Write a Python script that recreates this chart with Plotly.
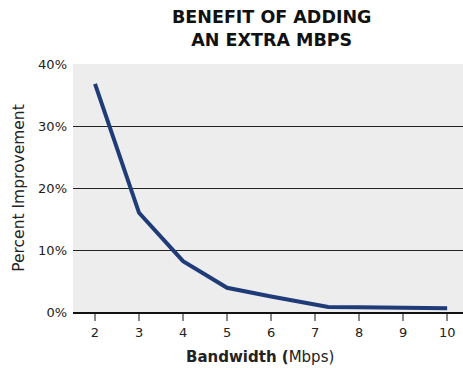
import plotly.graph_objects as go

# Bandwidth (Mbps) and percent improvement from one extra Mbps
bandwidth = [2, 3, 4, 5, 6, 7.3, 8, 9, 10]
improvement = [36.8, 16.0, 8.2, 3.9, 2.5, 0.8, 0.75, 0.7, 0.6]

x_ticks = [2, 3, 4, 5, 6, 7, 8, 9, 10]
y_ticks = [0, 10, 20, 30, 40]
y_tick_labels = ["0%", "10%", "20%", "30%", "40%"]

font_family = "'DejaVu Sans', sans-serif"

fig = go.Figure()
fig.add_trace(go.Scatter(
    x=bandwidth, y=improvement, mode="lines",
    line=dict(color="#1f3b78", width=4),
    hoverinfo="skip",
))

fig.update_layout(
    width=463, height=368,
    margin=dict(l=73, r=0, t=64, b=56),
    paper_bgcolor="white",
    plot_bgcolor="#ededed",
    showlegend=False,
    font=dict(family=font_family, color="#222", size=13),
    xaxis=dict(
        range=[1.5, 10.36],
        tickvals=x_ticks,
        ticks="outside", ticklen=7, tickcolor="#888", tickwidth=1.5,
        showgrid=False, zeroline=False,
        showline=True, linecolor="#111", linewidth=2,
        tickfont=dict(size=13),
    ),
    yaxis=dict(
        range=[0, 40],
        tickvals=y_ticks, ticktext=y_tick_labels,
        showgrid=True, gridcolor="#222", gridwidth=1,
        zeroline=False, showline=False,
        ticks="", ticklabelstandoff=5,
        title=dict(text="Percent Improvement", font=dict(size=15.5), standoff=9),
        tickfont=dict(size=13),
    ),
    annotations=[
        dict(
            text="<b>BENEFIT OF ADDING<br>AN EXTRA MBPS</b>",
            xref="paper", yref="paper", x=0.508, y=1.0, yshift=59,
            xanchor="center", yanchor="top", showarrow=False,
            align="center", font=dict(size=17.5, color="#111"),
        ),
        dict(
            text="<b>Bandwidth (</b>Mbps)",
            xref="paper", yref="paper", x=0.48, y=0, yshift=-45,
            xanchor="center", yanchor="middle", showarrow=False,
            font=dict(size=15, color="#222"),
        ),
    ],
)

fig.write_html("out.html")
